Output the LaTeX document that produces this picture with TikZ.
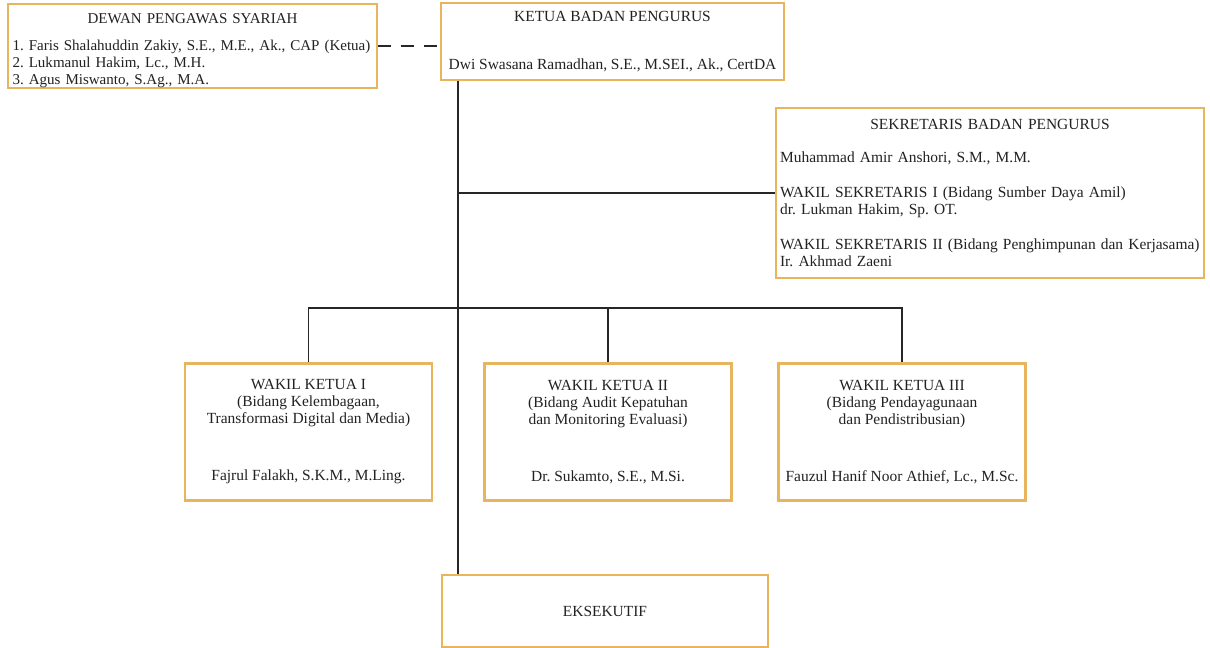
\documentclass[tikz,border=0pt]{standalone}
\usepackage{fontspec}
\setmainfont{Liberation Serif}
\usepackage{xcolor}
\definecolor{vienvang}{HTML}{E9B45E}
\definecolor{chuden}{HTML}{222222}
\def\mauvien{vienvang}
\def\mauchu{chuden}
\usepackage{tikz}
\usetikzlibrary{calc,positioning}
\setlength{\parindent}{0pt}

\begin{document}
\begin{tikzpicture}[x=0.02cm,y=-0.02cm]%
		\tikzset{
			khung/.style={draw=\mauvien,line width=1.3pt,fill=white,inner sep=0pt,
				font=\fontsize{8.8}{9.7}\selectfont\frenchspacing,text=\mauchu},
			khungwk/.style={khung,minimum width=4.94cm,minimum height=2.74cm,align=center},
			noi/.style={draw=black!85,line width=1.1pt},
			noinet/.style={noi,line width=1.5pt,dash pattern=on 7.5pt off 5.5pt}
		}
		\useasboundingbox (0,0) rectangle (1210,648);
		%%%Dewan pengawas syariah
		\node[khung,font=\fontsize{8.55}{9.7}\selectfont\frenchspacing,minimum width=7.38cm,minimum height=1.64cm,text width=7.2cm] (dps) at (192.5,46) {%
			{\centering\rule{0pt}{11pt}DEWAN PENGAWAS SYARIAH\par}\vspace{0.2cm}
			{\raggedright \mbox{1. Faris Shalahuddin Zakiy, S.E., M.E., Ak., CAP (Ketua)}\\
				2. Lukmanul Hakim, Lc., M.H.\\
				3. Agus Miswanto, S.Ag., M.A.\par}};
		%%%Ketua badan pengurus
		\node[khung,minimum width=6.86cm,minimum height=1.54cm,align=center] (kbp) at (612.5,41.5)
			{KETUA BADAN PENGURUS\\[0.62cm] Dwi Swasana Ramadhan, S.E., M.SEI., Ak., CertDA};
		%%%Sekretaris badan pengurus
		\node[khung,minimum width=8.56cm,minimum height=3.4cm,text width=8.4cm] (sbp) at (990,193) {%
			{\centering SEKRETARIS BADAN PENGURUS\par}\vspace{0.32cm}
			{\raggedright Muhammad Amir Anshori, S.M., M.M.\par\vspace{0.36cm}
				WAKIL SEKRETARIS I (Bidang Sumber Daya Amil)\\
				dr. Lukman Hakim, Sp. OT.\par\vspace{0.36cm}
				WAKIL SEKRETARIS II (Bidang Penghimpunan dan Kerjasama)\\
				Ir. Akhmad Zaeni\par}};
		%%%Wakil ketua
		\node[khungwk] (wk1) at (308.5,432) {WAKIL KETUA I\\(Bidang Kelembagaan,\\Transformasi Digital dan Media)\\[0.8cm]Fajrul Falakh, S.K.M., M.Ling.};
		\node[khungwk] (wk2) at (608,432) {WAKIL KETUA II\\(Bidang Audit Kepatuhan\\dan Monitoring Evaluasi)\\[0.8cm]Dr. Sukamto, S.E., M.Si.};
		\node[khungwk] (wk3) at (902,432) {WAKIL KETUA III\\(Bidang Pendayagunaan\\dan Pendistribusian)\\[0.8cm]Fauzul Hanif Noor Athief, Lc., M.Sc.};
		%%%Eksekutif
		\node[khung,minimum width=6.52cm,minimum height=1.44cm] (eks) at (605,611) {EKSEKUTIF};
		%%%Garis penghubung
		\coordinate (truc) at (458,308);
		\draw[noi] (truc |- kbp.south) -- (truc |- eks.north);
		\draw[noi] (truc |- sbp.west) -- (sbp.west);
		\draw[noi] (wk1.north) -- (wk1.north |- truc) -- (wk3.north |- truc) -- (wk3.north);
		\draw[noi] (wk2.north) -- (wk2.north |- truc);
		\draw[noinet] (dps.east) -- (dps.east -| kbp.west);
	\end{tikzpicture}
\end{document}
